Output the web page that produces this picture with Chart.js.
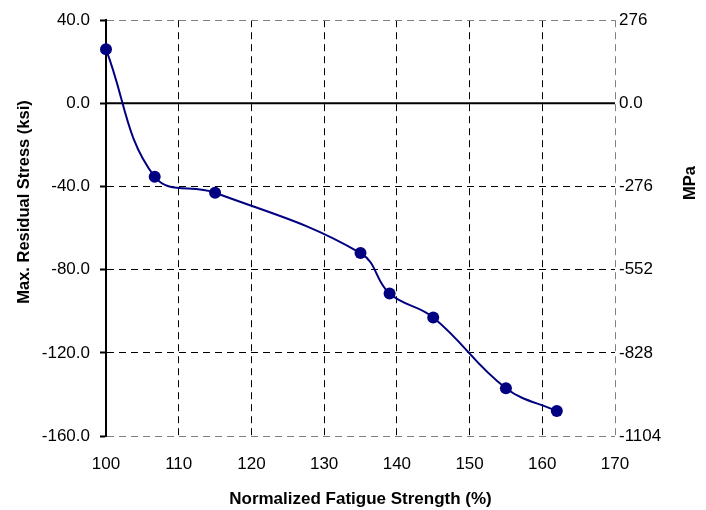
<!DOCTYPE html>
<html>
<head>
<meta charset="utf-8">
<script src="https://cdn.jsdelivr.net/npm/chart.js@4.4.1/dist/chart.umd.min.js"></script>
<style>
  body { margin: 0; background: #fff; }
</style>
</head>
<body>
<canvas id="myChart" width="706" height="510"></canvas>
<script>
// normalized fatigue strength (%) and max residual stress (ksi)
const fatigueStrength = [100, 106.7, 115, 135, 139, 145, 155, 162];
const residualStress = [26, -35.3, -43, -72, -91.5, -103, -137, -148];

const xTickValues = [100, 110, 120, 130, 140, 150, 160, 170];
const xTickLabels = ["100", "110", "120", "130", "140", "150", "160", "170"];
const ksiTickValues = [40, 0, -40, -80, -120, -160];
const ksiTickLabels = ["40.0", "0.0", "-40.0", "-80.0", "-120.0", "-160.0"];
const mpaTickValues = [276, 0, -276, -552, -828, -1104];
const mpaTickLabels = ["276", "0.0", "-276", "-552", "-828", "-1104"];

Chart.defaults.font.family = "'Liberation Sans', Arial, sans-serif";
Chart.defaults.font.size = 17;
Chart.defaults.color = '#000';

const points = fatigueStrength.map((x, i) => ({ x: x, y: residualStress[i] }));

function pick(values, labels, v) {
  const i = values.indexOf(v);
  return i >= 0 ? labels[i] : '';
}

// solid zero line and the two side titles
const extras = {
  id: 'extras',
  beforeDatasetsDraw(chart) {
    const ctx = chart.ctx;
    const area = chart.chartArea;
    const y0 = chart.scales.y.getPixelForValue(0);
    ctx.save();
    ctx.strokeStyle = '#000';
    ctx.lineWidth = 2;
    ctx.beginPath();
    ctx.moveTo(area.left, y0);
    ctx.lineTo(area.right, y0);
    ctx.stroke();
    ctx.restore();
  },
  afterDraw(chart) {
    const ctx = chart.ctx;
    ctx.save();
    ctx.font = "bold 16.5px 'Liberation Sans', Arial, sans-serif";
    ctx.fillStyle = '#000';
    ctx.textAlign = 'center';
    ctx.textBaseline = 'middle';
    ctx.translate(24, 202);
    ctx.rotate(-Math.PI / 2);
    ctx.fillText('Max. Residual Stress (ksi)', 0, 0);
    ctx.restore();

    ctx.save();
    ctx.font = "bold 16.5px 'Liberation Sans', Arial, sans-serif";
    ctx.fillStyle = '#000';
    ctx.textAlign = 'center';
    ctx.textBaseline = 'middle';
    ctx.translate(690, 183);
    ctx.rotate(-Math.PI / 2);
    ctx.fillText('MPa', 0, 0);
    ctx.restore();
  }
};

const ctx = document.getElementById('myChart');

new Chart(ctx, {
  type: 'line',
  data: {
    datasets: [{
      data: points,
      borderColor: '#000080',
      backgroundColor: '#000080',
      borderWidth: 2,
      pointRadius: 6,
      pointHoverRadius: 6,
      pointBackgroundColor: '#000080',
      pointBorderColor: '#000080',
      pointBorderWidth: 0,
      tension: 0.4,
      clip: false
    }]
  },
  options: {
    responsive: false,
    animation: false,
    layout: { padding: { top: 19, left: 0, right: 0, bottom: 0 } },
    plugins: {
      legend: { display: false },
      tooltip: { enabled: false }
    },
    scales: {
      x: {
        type: 'linear',
        min: 100,
        max: 170,
        ticks: {
          stepSize: 10,
          padding: 18,
          maxRotation: 0,
          callback: v => pick(xTickValues, xTickLabels, v)
        },
        grid: {
          drawTicks: false,
          lineWidth: 1,
          color: c => c.tick && c.tick.value === 100 ? 'rgba(0,0,0,0)' :
                      (c.tick && c.tick.value === 170 ? '#808080' : '#000')
        },
        border: { display: false, dash: [7, 5] },
        title: {
          display: true,
          text: 'Normalized Fatigue Strength (%)',
          font: { size: 17, weight: 'bold' },
          padding: { top: 0, bottom: 0 }
        },
        afterFit: s => { s.height = 74; }
      },
      y: {
        position: 'left',
        min: -160,
        max: 40,
        ticks: {
          stepSize: 40,
          padding: 10,
          callback: v => pick(ksiTickValues, ksiTickLabels, v)
        },
        grid: {
          drawTicks: true,
          tickLength: 6,
          tickColor: '#000',
          tickWidth: 2,
          lineWidth: 1,
          color: c => {
            const v = c.tick ? c.tick.value : null;
            if (v === 0) return 'rgba(0,0,0,0)';
            if (v === 40 || v === -160) return '#808080';
            return '#000';
          }
        },
        border: { display: true, color: '#000', width: 2, dash: [7, 5] },
        afterFit: s => { s.width = 106; }
      },
      y2: {
        position: 'right',
        min: -1104,
        max: 276,
        ticks: {
          stepSize: 276,
          padding: 4,
          callback: v => pick(mpaTickValues, mpaTickLabels, v)
        },
        grid: { display: true, drawOnChartArea: false, drawTicks: false },
        border: { display: false },
        afterFit: s => { s.width = 91; }
      }
    }
  },
  plugins: [extras]
});
</script>
</body>
</html>
